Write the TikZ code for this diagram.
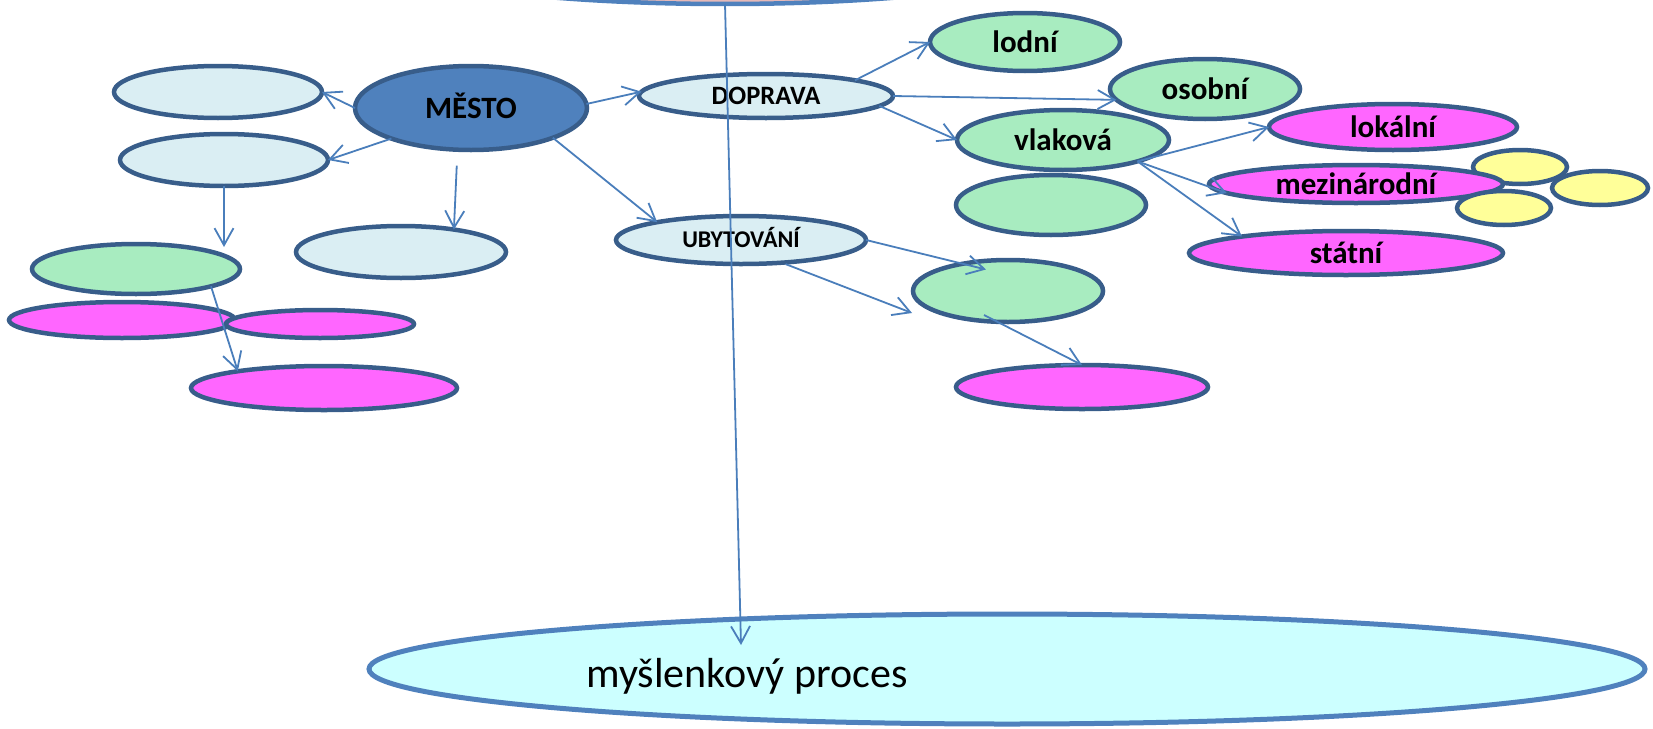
\documentclass[tikz,border=0pt]{standalone}
\usepackage{fontspec}
\setmainfont{Carlito}
\usetikzlibrary{arrows.meta,calc,shapes.geometric}
\definecolor{bord}{HTML}{385D8A}
\definecolor{conn}{HTML}{4A7EBB}
\definecolor{lblue}{HTML}{DAEEF3}
\definecolor{lgreen}{HTML}{A8ECC0}
\definecolor{magen}{HTML}{FF66FF}
\definecolor{yell}{HTML}{FFFF99}
\definecolor{mblue}{HTML}{4F81BD}
\definecolor{cyanf}{HTML}{CCFFFF}
\definecolor{pinkf}{HTML}{E6B9B8}
\begin{document}
\begin{tikzpicture}[x=1pt,y=-1pt,
  oval/.style={ellipse,draw=bord,line width=4.5pt,inner sep=0pt,outer sep=0pt},
  lbl/.style={font=\fontsize{31}{36}\selectfont\bfseries,text height=20pt,text depth=0pt},
  cn/.style={draw=conn,line width=1.8pt,-{Straight Barb[length=17pt,width=19pt]}}]
\useasboundingbox (0,0) rectangle (1653,728);
\clip (0,0) rectangle (1653,728);
% top partial ellipse
\node[oval,fill=pinkf,draw=mblue,minimum width=756pt,minimum height=120pt] (top) at (725,-56) {};
% left cluster
\node[oval,fill=lblue,minimum width=208pt,minimum height=52pt] (L1) at (218,92) {};
\node[oval,fill=lblue,minimum width=208pt,minimum height=52pt] (L2) at (224,160) {};
\node[oval,fill=lblue,minimum width=210pt,minimum height=52pt] (L3) at (401,252) {};
\node[oval,fill=lgreen,minimum width=208pt,minimum height=50pt] (G1) at (136,269) {};
\node[oval,fill=magen,minimum width=226pt,minimum height=36pt] (M1) at (122,320) {};
\node[oval,fill=magen,minimum width=188pt,minimum height=28pt] (M2) at (320,324) {};
\node[oval,fill=magen,minimum width=266pt,minimum height=44pt] (M3) at (324,388) {};
\node[oval,fill=mblue,minimum width=232pt,minimum height=84pt,lbl,font=\fontsize{31}{36}\selectfont\bfseries,text height=20pt] (mesto) at (471,108) {MĚSTO};
% middle
\node[oval,fill=lblue,minimum width=254pt,minimum height=44pt,lbl,font=\fontsize{26.5}{30}\selectfont\bfseries,text height=17pt] (doprava) at (766,96) {DOPRAVA};
\node[oval,fill=lblue,minimum width=250pt,minimum height=48pt,lbl,font=\fontsize{24}{28}\selectfont\bfseries,text height=15.5pt] (ubyt) at (741,240) {UBYTOVÁNÍ};
% right cluster
\node[oval,fill=lgreen,minimum width=190pt,minimum height=58pt,lbl] (lodni) at (1025,42) {lodní};
\node[oval,fill=lgreen,minimum width=190pt,minimum height=60pt,lbl] (osobni) at (1205,89) {osobní};
\node[oval,fill=magen,minimum width=248pt,minimum height=46pt,lbl] (lokalni) at (1393,127) {lokální};
\node[oval,fill=lgreen,minimum width=212pt,minimum height=60pt,lbl] (vlakova) at (1063,140) {vlaková};
\node[oval,fill=lgreen,minimum width=190pt,minimum height=60pt] (G4) at (1051,205) {};
\node[oval,fill=yell,minimum width=94pt,minimum height=34pt] (Y1) at (1520,167) {};
\node[oval,fill=magen,minimum width=294pt,minimum height=38pt,lbl] (mezi) at (1356,184) {mezinárodní};
\node[oval,fill=yell,minimum width=94pt,minimum height=34pt] (Y3) at (1504,208) {};
\node[oval,fill=yell,minimum width=96pt,minimum height=34pt] (Y2) at (1600,188) {};
\node[oval,fill=magen,minimum width=314pt,minimum height=44pt,lbl] (statni) at (1346,253) {státní};
\node[oval,fill=lgreen,minimum width=190pt,minimum height=62pt] (G5) at (1008,291) {};
\node[oval,fill=magen,minimum width=252pt,minimum height=44pt] (M5) at (1082,387) {};
% bottom
\node[oval,fill=cyanf,draw=mblue,line width=5pt,minimum width=1276pt,minimum height=110pt] (mysl) at (1007,669) {};
\node[font=\fontsize{42}{50}\selectfont,anchor=base,inner sep=0pt] (mysltxt) at (747,687) {myšlenkový proces};
% free ends
\coordinate (tipM) at (741,645);
\coordinate (g5tip) at (912,313);
\coordinate (g5s) at (984,315);
% connectors
\draw[cn] (mesto.west) -- (L1.east);
\draw[cn] (mesto.201) -- (L2.east);
\draw[cn,shorten <=16pt] (mesto.252) -- (L3.23);
\draw[cn] (mesto.2) -- (doprava.178);
\draw[cn] (mesto.-20) -- (ubyt.168);
\draw[cn] (L2.south) -- ($(L2.south |- G1.north)+(0,3)$);
\draw[cn] (G1.-13) -- (M3.169);
\draw[cn] (doprava.10) -- (lodni.west);
\draw[cn] (doprava.east) -- (osobni.187);
\draw[cn] (doprava.355) -- (vlakova.west);
\draw[cn] (vlakova.-16) -- (lokalni.west);
\draw[cn] (vlakova.-16) -- (mezi.184);
\draw[cn] (vlakova.-16) -- (statni.171);
\draw[cn,shorten >=-24pt] (ubyt.east) -- (G5.149);
\draw[cn,shorten <=4pt] (ubyt.-29) -- (g5tip);
\draw[cn] (g5s) -- (M5.north);
\draw[cn] (top.south) -- (tipM);
\end{tikzpicture}
\end{document}
